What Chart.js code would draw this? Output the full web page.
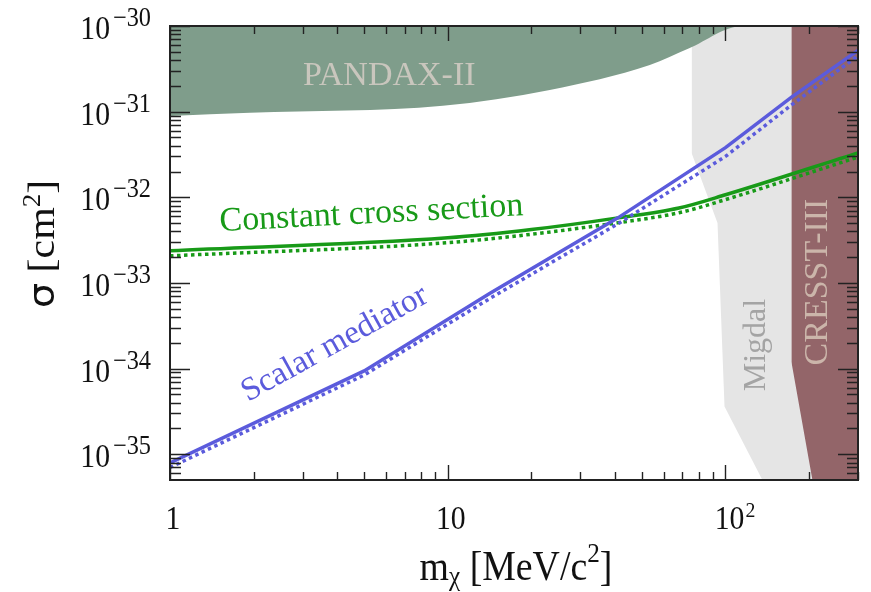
<!DOCTYPE html>
<html>
<head>
<meta charset="utf-8">
<script src="https://cdn.jsdelivr.net/npm/chart.js@4.4.1/dist/chart.umd.min.js"></script>
<style>
  body { margin: 0; background: #fff; }
  #wrap { width: 871px; height: 592px; position: relative; }
</style>
</head>
<body>
<div id="wrap"><canvas id="myChart"></canvas></div>
<script>
// axis ranges and tick labels
const massRange = [1, 300]
const sigmaRange = [5e-36, 1e-30]
const massTicks = [1, 10, 100]
const massTickLabels = [['1', ''], ['10', ''], ['10', '2']]
const sigmaTicks = [1e-35, 1e-34, 1e-33, 1e-32, 1e-31, 1e-30]
const sigmaTickExps = ['\u221235', '\u221234', '\u221233', '\u221232', '\u221231', '\u221230']

// constant cross section (green)
const constMass = [1, 10, 20, 41, 68, 100, 300]
const constSolid = [2.37e-33, 3.36e-33, 4.2e-33, 5.75e-33, 7.5e-33, 1.07e-32, 3.3e-32]
const constDotted = [2.07e-33, 2.95e-33, 3.7e-33, 5.05e-33, 6.6e-33, 9.4e-33, 2.95e-32]

// scalar mediator (blue)
const scalarMass = [1, 5, 14.2, 41, 100, 173, 300]
const scalarSolid = [7.9e-36, 9.4e-35, 7.6e-34, 5.75e-33, 3.8e-32, 1.48e-31, 5.2e-31]
const scalarDotted = [7.0e-36, 8.4e-35, 6.6e-34, 4.9e-33, 3.0e-32, 1.2e-31, 4.5e-31]

// excluded regions
const pandaxMass = [1, 1.94, 9.6, 23.3, 53.4, 74, 115, 300]
const pandaxSigma = [8.9e-32, 9.7e-32, 1.17e-31, 1.79e-31, 3.5e-31, 5.5e-31, 1e-30, 1e-30]
const migdalMass = [75.5, 75.5, 93.6, 99.2, 135.8, 300]
const migdalSigma = [1e-30, 3.3e-32, 5e-33, 3.6e-35, 5e-36, 5e-36]
const cresstMass = [172.7, 172.7, 205.6, 300]
const cresstSigma = [1e-30, 1.2e-34, 5e-36, 5e-36]

const GREEN = '#189a18'
const BLUE = '#5b5bdc'
const SERIF = '"Liberation Serif", "Times New Roman", serif'
const SQ = 0.9

function pts(xs, ys){
    return xs.map((x, i) => ({x: x, y: ys[i]}))
}

function txt(ctx, s, x, y, font, color, align, angle, sq){
    ctx.save()
    ctx.translate(x, y)
    ctx.scale(sq || 1, 1)
    ctx.rotate(angle || 0)
    ctx.font = font
    ctx.fillStyle = color
    ctx.textAlign = align || 'left'
    ctx.textBaseline = 'alphabetic'
    ctx.fillText(s, 0, 0)
    ctx.restore()
}

// draws a run of text pieces [text, font, dy] centred on (cx, cy) along the given angle
function pieces(ctx, parts, cx, cy, angle, color){
    let total = 0
    for (let p of parts){
        ctx.font = p[1]
        total += ctx.measureText(p[0]).width
    }
    ctx.save()
    ctx.translate(cx, cy)
    ctx.scale(SQ, 1)
    ctx.rotate(angle)
    ctx.fillStyle = color
    ctx.textBaseline = 'alphabetic'
    ctx.textAlign = 'left'
    let x = -total / 2
    for (let p of parts){
        ctx.font = p[1]
        ctx.fillText(p[0], x, p[2])
        x += ctx.measureText(p[0]).width
    }
    ctx.restore()
}

const labelsPlugin = {
    id: 'labels',
    afterDatasetsDraw(chart){
        const ctx = chart.ctx
        const a = chart.chartArea
        ctx.save()
        ctx.beginPath()
        ctx.rect(a.left, a.top, a.right - a.left, a.bottom - a.top)
        ctx.clip()
        txt(ctx, 'PANDAX-II', 303, 85, '34px ' + SERIF, '#c9c6bd')
        txt(ctx, 'Constant cross section', 220, 231, '34px ' + SERIF, GREEN, 'left', -3 * Math.PI / 180)
        txt(ctx, 'Scalar mediator', 248, 402, '33px ' + SERIF, BLUE, 'left', -29 * Math.PI / 180)
        txt(ctx, 'Migdal', 765, 345, '32px ' + SERIF, '#a4a4a4', 'center', -Math.PI / 2)
        txt(ctx, 'CRESST-III', 827, 282, '34px ' + SERIF, '#cbb5aa', 'center', -Math.PI / 2)
        ctx.restore()
    },
    afterDraw(chart){
        const ctx = chart.ctx
        const a = chart.chartArea
        const xs = chart.scales.x
        const ys = chart.scales.y
        ctx.save()
        ctx.strokeStyle = '#222'
        ctx.lineWidth = 1.4
        ctx.beginPath()
        // x ticks, bottom and top
        for (let e = 0; e <= 2; e++){
            for (let k = 1; k <= 9; k++){
                const v = k * Math.pow(10, e)
                if (v > massRange[1]) continue
                const px = Math.round(xs.getPixelForValue(v)) + 0.5
                const len = k === 1 ? 15 : 8
                ctx.moveTo(px, a.bottom); ctx.lineTo(px, a.bottom - len)
                ctx.moveTo(px, a.top); ctx.lineTo(px, a.top + len)
            }
        }
        // y ticks, left and right
        for (let e = -36; e <= -30; e++){
            for (let k = 1; k <= 9; k++){
                const v = k * Math.pow(10, e)
                if (v < sigmaRange[0] || v > sigmaRange[1] * 1.0001) continue
                const py = Math.round(ys.getPixelForValue(v)) + 0.5
                const len = k === 1 ? 20 : 11
                ctx.moveTo(a.left, py); ctx.lineTo(a.left + len, py)
                ctx.moveTo(a.right, py); ctx.lineTo(a.right - len, py)
            }
        }
        ctx.stroke()
        ctx.lineWidth = 2
        ctx.strokeRect(a.left, a.top, a.right - a.left, a.bottom - a.top)
        ctx.restore()

        // tick labels
        const tickFont = '33px ' + SERIF
        sigmaTicks.forEach((v, i) => {
            const py = ys.getPixelForValue(v)
            txt(ctx, '10', 110, py + 13, tickFont, '#111', 'right', 0, SQ)
            txt(ctx, sigmaTickExps[i], 113, py, '27px ' + SERIF, '#111', 'left', 0, SQ)
        })
        massTicks.forEach((v, i) => {
            const px = xs.getPixelForValue(v)
            const lab = massTickLabels[i]
            if (lab[1]){
                txt(ctx, lab[0], px + 4, a.bottom + 49, tickFont, '#111', 'center', 0, SQ)
                txt(ctx, lab[1], px + 20, a.bottom + 37, '22px ' + SERIF, '#111', 'left', 0, SQ)
            } else {
                txt(ctx, lab[0], px + 3, a.bottom + 49, tickFont, '#111', 'center', 0, SQ)
            }
        })

        // axis titles
        const cx = (a.left + a.right) / 2
        pieces(ctx, [
            ['m', '42px ' + SERIF, 0],
            ['\u03c7', '28px ' + SERIF, 5],
            [' [MeV/c', '42px ' + SERIF, 0],
            ['2', '28px ' + SERIF, -18],
            [']', '42px ' + SERIF, 0]
        ], cx + 2, a.bottom + 100, 0, '#111')
        pieces(ctx, [
            ['\u03c3', '40px "DejaVu Sans", sans-serif', 0],
            [' [cm', '42px ' + SERIF, 0],
            ['2', '27px ' + SERIF, -16],
            [']', '42px ' + SERIF, 0]
        ], 54, 244, -Math.PI / 2, '#111')
    }
}

function curve(label, xs, ys, color, dashed, smooth){
    return {
        label: label,
        data: pts(xs, ys),
        borderColor: color,
        borderWidth: 3.5,
        borderDash: dashed ? [3.5, 3.5] : [],
        cubicInterpolationMode: smooth ? 'monotone' : 'default',
        tension: 0,
        pointRadius: 0,
        fill: false
    }
}

function region(label, xs, ys, color, smooth){
    return {
        label: label,
        data: pts(xs, ys),
        borderWidth: 0,
        borderColor: 'rgba(0,0,0,0)',
        backgroundColor: color,
        pointRadius: 0,
        cubicInterpolationMode: smooth ? 'monotone' : 'default',
        fill: 'end'
    }
}

const ctx = document.getElementById('myChart').getContext('2d')
const myChart = new Chart(ctx, {
    type: 'line',
    data: {
        datasets: [
            curve('Scalar mediator', scalarMass, scalarSolid, BLUE, false, false),
            curve('Scalar mediator (dotted)', scalarMass, scalarDotted, BLUE, true, false),
            curve('Constant cross section', constMass, constSolid, GREEN, false, true),
            curve('Constant cross section (dotted)', constMass, constDotted, GREEN, true, true),
            region('PANDAX-II', pandaxMass, pandaxSigma, '#7f9d8b', true),
            region('CRESST-III', cresstMass, cresstSigma, '#936569', false),
            region('Migdal', migdalMass, migdalSigma, '#e5e5e5', false)
        ]
    },
    options: {
        responsive: true,
        maintainAspectRatio: false,
        animation: false,
        layout: { padding: { left: 170, right: 13, top: 26, bottom: 112 } },
        scales: {
            x: { type: 'logarithmic', min: massRange[0], max: massRange[1], display: false },
            y: { type: 'logarithmic', min: sigmaRange[0], max: sigmaRange[1], display: false }
        },
        plugins: {
            legend: { display: false },
            tooltip: { enabled: false }
        }
    },
    plugins: [labelsPlugin]
})
</script>
</body>
</html>
